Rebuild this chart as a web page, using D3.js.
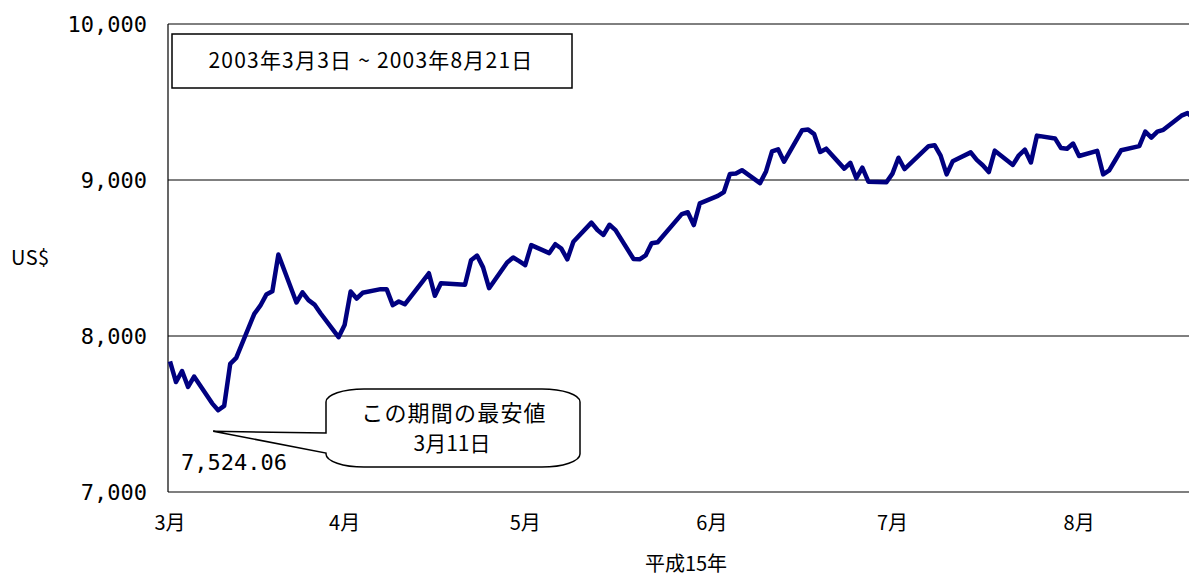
<!DOCTYPE html>
<html>
<head>
<meta charset="utf-8">
<script src="https://cdn.jsdelivr.net/npm/d3@7"></script>
<style>
  html, body { margin: 0; padding: 0; background: #fff; }
  svg { display: block; }
  .jp { font-family: "Noto Sans CJK JP", "Noto Sans", sans-serif; fill: #000; }
  .num { font-family: "DejaVu Sans Mono", "Liberation Mono", monospace; fill: #000; }
</style>
</head>
<body>
<div id="chart"></div>
<script>
// NYダウ終値 2003/3/3 ~ 2003/8/21
const dates = [
  '2003-03-03','2003-03-04','2003-03-05','2003-03-06','2003-03-07','2003-03-10','2003-03-11','2003-03-12',
  '2003-03-13','2003-03-14','2003-03-17','2003-03-18','2003-03-19','2003-03-20','2003-03-21','2003-03-24',
  '2003-03-25','2003-03-26','2003-03-27','2003-03-28','2003-03-31',
  '2003-04-01','2003-04-02','2003-04-03','2003-04-04','2003-04-07','2003-04-08','2003-04-09','2003-04-10',
  '2003-04-11','2003-04-14','2003-04-15','2003-04-16','2003-04-17','2003-04-21','2003-04-22','2003-04-23',
  '2003-04-24','2003-04-25','2003-04-28','2003-04-29','2003-04-30',
  '2003-05-01','2003-05-02','2003-05-05','2003-05-06','2003-05-07','2003-05-08','2003-05-09','2003-05-12',
  '2003-05-13','2003-05-14','2003-05-15','2003-05-16','2003-05-19','2003-05-20','2003-05-21','2003-05-22',
  '2003-05-23','2003-05-27','2003-05-28','2003-05-29','2003-05-30',
  '2003-06-02','2003-06-03','2003-06-04','2003-06-05','2003-06-06','2003-06-09','2003-06-10','2003-06-11',
  '2003-06-12','2003-06-13','2003-06-16','2003-06-17','2003-06-18','2003-06-19','2003-06-20','2003-06-23',
  '2003-06-24','2003-06-25','2003-06-26','2003-06-27','2003-06-30',
  '2003-07-01','2003-07-02','2003-07-03','2003-07-07','2003-07-08','2003-07-09','2003-07-10','2003-07-11',
  '2003-07-14','2003-07-15','2003-07-16','2003-07-17','2003-07-18','2003-07-21','2003-07-22','2003-07-23',
  '2003-07-24','2003-07-25','2003-07-28','2003-07-29','2003-07-30','2003-07-31',
  '2003-08-01','2003-08-04','2003-08-05','2003-08-06','2003-08-07','2003-08-08','2003-08-11','2003-08-12',
  '2003-08-13','2003-08-14','2003-08-15','2003-08-18','2003-08-19','2003-08-20','2003-08-21'
];

const closes = [
  7837.86, 7704.87, 7775.60, 7673.99, 7740.03, 7568.18, 7524.06, 7552.07,
  7821.75, 7859.71, 8141.92, 8194.23, 8265.45, 8286.60, 8521.97, 8214.68,
  8280.23, 8229.88, 8201.45, 8145.77, 7992.13,
  8069.86, 8285.06, 8240.38, 8277.15, 8300.41, 8298.92, 8197.94, 8221.33,
  8203.41, 8351.10, 8402.36, 8257.61, 8337.65, 8328.90, 8484.99, 8515.66,
  8440.04, 8306.35, 8471.61, 8502.99, 8480.09,
  8454.25, 8582.68, 8531.57, 8588.36, 8560.63, 8491.22, 8604.60, 8726.73,
  8679.25, 8647.82, 8713.14, 8678.97, 8493.39, 8491.36, 8516.43, 8594.02,
  8601.38, 8781.35, 8793.12, 8711.18, 8850.26,
  8897.81, 8922.95, 9038.98, 9041.30, 9062.79, 8980.00, 9054.89, 9183.22,
  9196.55, 9117.12, 9318.96, 9323.02, 9293.80, 9179.53, 9200.75, 9072.95,
  9109.85, 9011.53, 9079.04, 8989.05, 8985.44,
  9040.95, 9142.84, 9070.21, 9216.79, 9223.09, 9156.21, 9036.04, 9119.59,
  9177.15, 9128.97, 9094.59, 9050.82, 9188.15, 9096.69, 9158.45, 9194.24,
  9112.51, 9284.57, 9266.51, 9204.46, 9200.05, 9233.80,
  9153.97, 9186.94, 9036.32, 9061.74, 9126.45, 9191.09, 9217.34, 9310.06,
  9271.76, 9310.56, 9321.69, 9412.45, 9428.90, 9397.51, 9423.68
];

const yTicks = [7000, 8000, 9000, 10000];
const monthTicks = ['2003-03-03', '2003-04-01', '2003-05-01', '2003-06-01', '2003-07-01', '2003-08-01'];
const monthLabels = ['3月', '4月', '5月', '6月', '7月', '8月'];

const lowDate = '2003-03-11';
const lowValue = 7524.06;

const width = 1189, height = 576;
const parse = d3.timeParse('%Y-%m-%d');
const series = dates.map((d, i) => ({ date: parse(d), value: closes[i] }));

const plotLeft = 168, plotTop = 24, plotBottom = 492;

// 右端は画像の外まで続く
const x = d3.scaleTime()
  .domain([parse('2003-03-03'), parse('2003-08-21')])
  .range([170, 1199.5]);

const y = d3.scaleLinear()
  .domain([7000, 10000])
  .range([plotBottom, plotTop]);

const svg = d3.select('#chart').append('svg')
  .attr('width', width)
  .attr('height', height);

// gridlines
svg.append('g')
  .selectAll('line')
  .data(yTicks.slice(1))
  .join('line')
  .attr('x1', plotLeft).attr('x2', width)
  .attr('y1', d => y(d)).attr('y2', d => y(d))
  .attr('stroke', '#000').attr('stroke-width', 1);

// axes lines
svg.append('line')
  .attr('x1', plotLeft).attr('x2', plotLeft)
  .attr('y1', plotTop).attr('y2', plotBottom)
  .attr('stroke', '#000').attr('stroke-width', 1.2);
svg.append('line')
  .attr('x1', plotLeft).attr('x2', width)
  .attr('y1', plotBottom).attr('y2', plotBottom)
  .attr('stroke', '#000').attr('stroke-width', 1.2);

// y tick labels
svg.append('g')
  .selectAll('text')
  .data(yTicks)
  .join('text')
  .attr('class', 'num')
  .attr('x', 147)
  .attr('y', d => y(d))
  .attr('dy', '0.36em')
  .attr('text-anchor', 'end')
  .attr('font-size', 22)
  .text(d => d3.format(',')(d));

// month labels
svg.append('g')
  .selectAll('text')
  .data(monthTicks)
  .join('text')
  .attr('class', 'jp')
  .attr('x', d => x(parse(d)))
  .attr('y', 530)
  .attr('text-anchor', 'middle')
  .attr('font-size', 20)
  .text((d, i) => monthLabels[i]);

svg.append('text')
  .attr('class', 'jp')
  .attr('x', 686).attr('y', 571)
  .attr('text-anchor', 'middle')
  .attr('font-size', 20)
  .text('平成15年');

svg.append('text')
  .attr('class', 'jp')
  .attr('x', 11).attr('y', 265)
  .attr('font-size', 20)
  .attr('letter-spacing', 0.5)
  .text('US$');

// line
const line = d3.line()
  .x(d => x(d.date))
  .y(d => y(d.value));

svg.append('path')
  .datum(series)
  .attr('fill', 'none')
  .attr('stroke', '#000080')
  .attr('stroke-width', 4.5)
  .attr('stroke-linejoin', 'round')
  .attr('d', line);

// period box
svg.append('rect')
  .attr('x', 172).attr('y', 34)
  .attr('width', 400).attr('height', 54)
  .attr('fill', '#fff')
  .attr('stroke', '#000').attr('stroke-width', 1.5);
svg.append('text')
  .attr('class', 'jp')
  .attr('x', 371).attr('y', 60)
  .attr('dy', '0.36em')
  .attr('text-anchor', 'middle')
  .attr('font-size', 21)
  .attr('letter-spacing', 1.2)
  .text('2003年3月3日 ~ 2003年8月21日');

// callout
const tipX = x(parse(lowDate)) - 5;
const tipY = y(lowValue) + 21;
const bx0 = 326, bx1 = 580, by0 = 389, by1 = 467, rx = 38, ry = 13;
const callout = [
  `M${bx0 + rx},${by0}`,
  `H${bx1 - rx}`,
  `A${rx},${ry} 0 0 1 ${bx1},${by0 + ry}`,
  `V${by1 - ry}`,
  `A${rx},${ry} 0 0 1 ${bx1 - rx},${by1}`,
  `H${bx0 + rx}`,
  `A${rx},${ry} 0 0 1 ${bx0},${by1 - ry}`,
  `V${453}`,
  `L${tipX},${tipY}`,
  `L${bx0},${433}`,
  `V${by0 + ry}`,
  `A${rx},${ry} 0 0 1 ${bx0 + rx},${by0}`,
  'Z'
].join(' ');
svg.append('path')
  .attr('d', callout)
  .attr('fill', '#fff')
  .attr('stroke', '#000')
  .attr('stroke-width', 1.5);

svg.append('text')
  .attr('class', 'jp')
  .attr('x', 454).attr('y', 413)
  .attr('dy', '0.36em')
  .attr('text-anchor', 'middle')
  .attr('font-size', 22)
  .attr('letter-spacing', 1.2)
  .text('この期間の最安値');
svg.append('text')
  .attr('class', 'jp')
  .attr('x', 452).attr('y', 443)
  .attr('dy', '0.36em')
  .attr('text-anchor', 'middle')
  .attr('font-size', 21)
  .text('3月11日');

svg.append('text')
  .attr('class', 'num')
  .attr('x', 181).attr('y', 470)
  .attr('font-size', 22)
  .text(d3.format(',.2f')(lowValue));
</script>
</body>
</html>
